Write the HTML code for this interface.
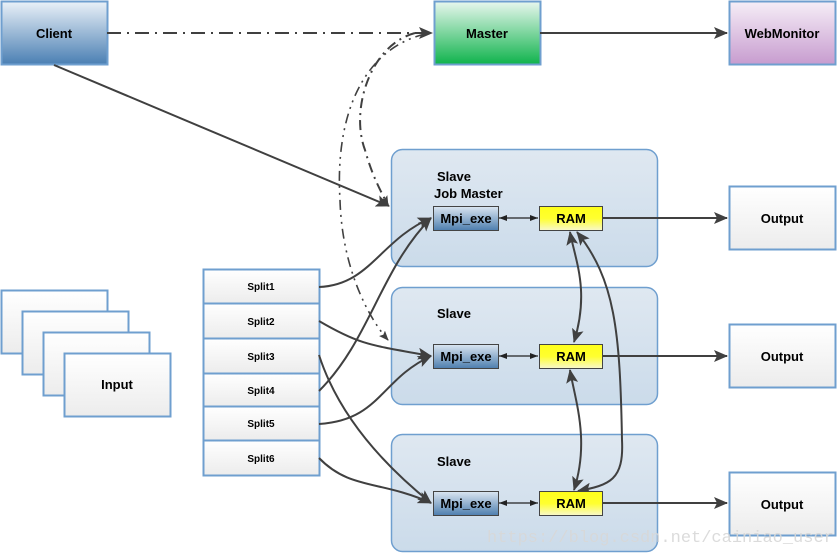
<!DOCTYPE html>
<html><head><meta charset="utf-8"><style>
html,body{margin:0;padding:0;background:#fff;}
svg{display:block;font-family:"Liberation Sans",sans-serif;font-weight:bold;}
</style></head><body>
<svg width="838" height="555" viewBox="0 0 838 555" xmlns="http://www.w3.org/2000/svg">
<defs>
<linearGradient id="blue" x1="0" y1="0" x2="0" y2="1"><stop offset="0" stop-color="#eaf1f8"/><stop offset="1" stop-color="#4a7fb3"/></linearGradient>
<linearGradient id="green" x1="0" y1="0" x2="0" y2="1"><stop offset="0" stop-color="#e8f7ee"/><stop offset="1" stop-color="#0fb34c"/></linearGradient>
<linearGradient id="purple" x1="0" y1="0" x2="0" y2="1"><stop offset="0" stop-color="#f6eef7"/><stop offset="1" stop-color="#c79ccf"/></linearGradient>
<linearGradient id="white" x1="0" y1="0" x2="0" y2="1"><stop offset="0" stop-color="#ffffff"/><stop offset="1" stop-color="#ececec"/></linearGradient>
<linearGradient id="slave" x1="0" y1="0" x2="0" y2="1"><stop offset="0" stop-color="#dfe8f1"/><stop offset="1" stop-color="#cbdbea"/></linearGradient>
<linearGradient id="mpi" x1="0" y1="0" x2="0" y2="1"><stop offset="0" stop-color="#dbe6f1"/><stop offset="1" stop-color="#4d7eae"/></linearGradient>
<linearGradient id="ram" x1="0" y1="0" x2="0" y2="1"><stop offset="0" stop-color="#ffff1a"/><stop offset="0.5" stop-color="#ffff30"/><stop offset="1" stop-color="#f8f8cc"/></linearGradient>
<marker id="a" markerWidth="10" markerHeight="8" refX="9" refY="4" orient="auto" markerUnits="userSpaceOnUse"><path d="M0,0 L10,4 L0,8 L2,4 Z" fill="#404040"/></marker>
<marker id="as" markerWidth="8" markerHeight="6" refX="8" refY="3" orient="auto-start-reverse" markerUnits="userSpaceOnUse"><path d="M0,0 L8,3 L0,6 Z" fill="#222"/></marker>
<marker id="ab" markerWidth="14" markerHeight="12" refX="13" refY="6" orient="auto-start-reverse" markerUnits="userSpaceOnUse"><path d="M0,0 L14,6 L0,12 L3,6 Z" fill="#404040"/></marker>
</defs>

<!-- slave boxes -->
<rect x="391.5" y="149.5" width="266" height="117" rx="11" fill="url(#slave)" stroke="#6f9fcf" stroke-width="1.5"/>
<rect x="391.5" y="287.5" width="266" height="117" rx="11" fill="url(#slave)" stroke="#6f9fcf" stroke-width="1.5"/>
<rect x="391.5" y="434.5" width="266" height="117" rx="11" fill="url(#slave)" stroke="#6f9fcf" stroke-width="1.5"/>
<text x="437" y="181" font-size="13">Slave</text>
<text x="434" y="198" font-size="13">Job Master</text>
<text x="437" y="318" font-size="13">Slave</text>
<text x="437" y="466" font-size="13">Slave</text>

<!-- top boxes -->
<rect x="1.5" y="1.5" width="106" height="63" fill="url(#blue)" stroke="#6f9fcf" stroke-width="2"/>
<text x="54" y="38" font-size="13" text-anchor="middle">Client</text>
<rect x="434.5" y="1.5" width="106" height="63" fill="url(#green)" stroke="#6f9fcf" stroke-width="2"/>
<text x="487" y="38" font-size="13" text-anchor="middle">Master</text>
<rect x="729.5" y="1.5" width="106" height="63" fill="url(#purple)" stroke="#6f9fcf" stroke-width="2"/>
<text x="782" y="38" font-size="13" text-anchor="middle">WebMonitor</text>

<!-- outputs -->
<g fill="url(#white)" stroke="#6f9fcf" stroke-width="2">
<rect x="729.5" y="186.5" width="106" height="63"/>
<rect x="729.5" y="324.5" width="106" height="63"/>
<rect x="729.5" y="472.5" width="106" height="63"/>
</g>
<g font-size="13" text-anchor="middle">
<text x="782" y="223">Output</text><text x="782" y="361">Output</text><text x="782" y="509">Output</text>
</g>

<!-- inputs -->
<g fill="url(#white)" stroke="#6f9fcf" stroke-width="2">
<rect x="1.5" y="290.5" width="106" height="63"/>
<rect x="22.5" y="311.5" width="106" height="63"/>
<rect x="43.5" y="332.5" width="106" height="63"/>
<rect x="64.5" y="353.5" width="106" height="63"/>
</g>
<text x="117" y="389" font-size="13" text-anchor="middle">Input</text>

<!-- splits -->
<g fill="url(#white)" stroke="#6f9fcf" stroke-width="2">
<rect x="203.5" y="269.5" width="116" height="34"/>
<rect x="203.5" y="303.5" width="116" height="35"/>
<rect x="203.5" y="338.5" width="116" height="35"/>
<rect x="203.5" y="373.5" width="116" height="33"/>
<rect x="203.5" y="406.5" width="116" height="34"/>
<rect x="203.5" y="440.5" width="116" height="35"/>
</g>
<g font-size="10" text-anchor="middle">
<text x="261" y="290">Split1</text><text x="261" y="325">Split2</text><text x="261" y="360">Split3</text>
<text x="261" y="394">Split4</text><text x="261" y="427">Split5</text><text x="261" y="462">Split6</text>
</g>

<!-- connectors -->
<g fill="none" stroke="#404040" stroke-width="2">
<line x1="107" y1="33" x2="432" y2="33" stroke-dasharray="14,6,2,6" marker-end="url(#ab)"/>
<line x1="540" y1="33" x2="727" y2="33" marker-end="url(#ab)"/>
<line x1="54" y1="65" x2="389" y2="206" marker-end="url(#ab)"/>
<path d="M415,33 C370,45 350,110 365,150 C372,175 380,190 388,205" stroke-dasharray="10,5,2,5" marker-end="url(#a)"/>
<path d="M425,34 C360,50 335,120 340,200 C342,270 370,320 388,340" stroke-dasharray="10,5,2,5,2,5" stroke-width="1.6" marker-end="url(#a)"/>
<path d="M319,287 C370,285 380,240 431,218" marker-end="url(#ab)"/>
<path d="M319,321 C360,345 370,345 431,356" marker-end="url(#ab)"/>
<path d="M319,355 C340,420 390,470 431,503" marker-end="url(#ab)"/>
<path d="M319,391 C370,340 380,270 431,218" marker-end="url(#ab)"/>
<path d="M319,424 C380,420 380,380 431,356" marker-end="url(#ab)"/>
<path d="M319,458 C350,490 380,480 431,503" marker-end="url(#ab)"/>
<line x1="603" y1="218" x2="727" y2="218" marker-end="url(#ab)"/>
<line x1="603" y1="356" x2="727" y2="356" marker-end="url(#ab)"/>
<line x1="603" y1="503" x2="727" y2="503" marker-end="url(#ab)"/>
<path d="M570,232 C575,260 590,290 574,342" marker-start="url(#ab)" marker-end="url(#ab)"/>
<path d="M570,370 C575,400 590,440 574,490" marker-start="url(#ab)" marker-end="url(#ab)"/>
<path d="M577,232 C615,280 620,330 622,440 C624,480 610,485 578,491" marker-start="url(#ab)" marker-end="url(#ab)"/>
</g>
<g stroke="#222" stroke-width="1.2">
<line x1="499" y1="218" x2="538" y2="218" marker-start="url(#as)" marker-end="url(#as)"/>
<line x1="499" y1="356" x2="538" y2="356" marker-start="url(#as)" marker-end="url(#as)"/>
<line x1="499" y1="503" x2="538" y2="503" marker-start="url(#as)" marker-end="url(#as)"/>
</g>

<!-- mpi / ram -->
<g stroke="#444" stroke-width="1">
<rect x="433.5" y="206.5" width="65" height="24" fill="url(#mpi)"/>
<rect x="433.5" y="344.5" width="65" height="24" fill="url(#mpi)"/>
<rect x="433.5" y="491.5" width="65" height="24" fill="url(#mpi)"/>
<rect x="539.5" y="206.5" width="63" height="24" fill="url(#ram)"/>
<rect x="539.5" y="344.5" width="63" height="24" fill="url(#ram)"/>
<rect x="539.5" y="491.5" width="63" height="24" fill="url(#ram)"/>
</g>
<g font-size="13" text-anchor="middle">
<text x="466" y="223">Mpi_exe</text><text x="466" y="361">Mpi_exe</text><text x="466" y="508">Mpi_exe</text>
<text x="571" y="223">RAM</text><text x="571" y="361">RAM</text><text x="571" y="508">RAM</text>
</g>

<text x="487" y="542" font-size="17" font-weight="normal" fill="#d8d8d8" style="font-family:'Liberation Mono',monospace" opacity="0.9">https://blog.csdn.net/cainiao_user</text>
</svg>
</body></html>
